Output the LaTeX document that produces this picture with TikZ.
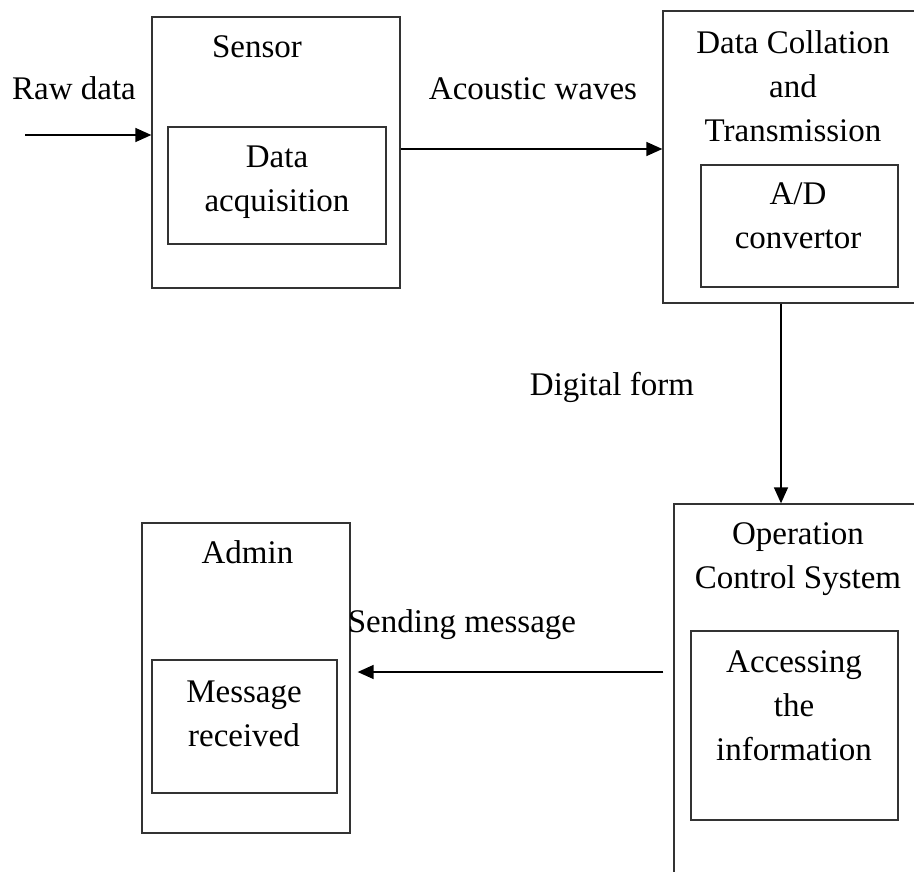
\documentclass[tikz,border=0pt]{standalone}
\usepackage{fontspec}
\setmainfont{Liberation Serif}
\usetikzlibrary{arrows.meta}
\begin{document}
\begin{tikzpicture}[x=1pt,y=-1pt,
  box/.style={draw=black!80,line width=1.3pt,inner sep=0pt,rectangle},
  lbl/.style={inner sep=0pt,align=center,anchor=base,font=\fontsize{33}{44}\selectfont},
  conn/.style={line width=1.4pt,-{Triangle[length=16pt,width=14pt]}}]
\useasboundingbox (0,0) rectangle (914,872);
\fill[white] (0,0) rectangle (914,872);
\begin{scope}
\clip (0,0) rectangle (914,872);
% boxes
\node[box,minimum width=248pt,minimum height=271pt] (sensor) at (276,152.5) {};
\node[box,minimum width=218pt,minimum height=117pt] (acq) at (277,185.5) {};
\node[box,minimum width=267pt,minimum height=292pt] (dc) at (796.5,157) {};
\node[box,minimum width=197pt,minimum height=122pt] (ad) at (799.5,226) {};
\node[box,minimum width=256pt,minimum height=396pt] (ocs) at (802,702) {};
\node[box,minimum width=207pt,minimum height=189pt] (acc) at (794.5,725.5) {};
\node[box,minimum width=208pt,minimum height=310pt] (admin) at (246,678) {};
\node[box,minimum width=185pt,minimum height=133pt] (msg) at (244.5,726.5) {};
% labels (anchor = baseline of last line)
\node[lbl] (tsensor) at (257,58) {Sensor};
\node[lbl] (tacq) at (277,212) {Data\\acquisition};
\node[lbl] (tdc) at (793,142) {Data Collation\\and\\Transmission};
\node[lbl] (tad) at (798,249) {A/D\\convertor};
\node[lbl] (tocs) at (798,588) {Operation\\Control System};
\node[lbl] (tacc) at (794,760) {Accessing\\the\\information};
\node[lbl] (tadmin) at (247.5,563) {Admin};
\node[lbl] (tmsg) at (244,746) {Message\\received};
\node[lbl] (traw) at (74,100) {Raw data};
\node[lbl] (tac) at (533,100) {Acoustic waves};
\node[lbl] (tdig) at (612,395) {Digital form};
\node[lbl] (tsend) at (462,632) {Sending message};
% connectors
\coordinate (rawstart) at (25,135);
\coordinate (acy) at (0,149);
\coordinate (vx) at (781,0);
\coordinate (sendy) at (0,672);
\draw[conn] (rawstart) -- (sensor.west |- rawstart);
\draw[conn] (sensor.east |- acy) -- (dc.west |- acy);
\draw[conn] (dc.south -| vx) -- (ocs.north -| vx);
\draw[conn] ([xshift=-10pt]ocs.west |- sendy) -- ([xshift=7pt]admin.east |- sendy);
\end{scope}
\end{tikzpicture}
\end{document}
